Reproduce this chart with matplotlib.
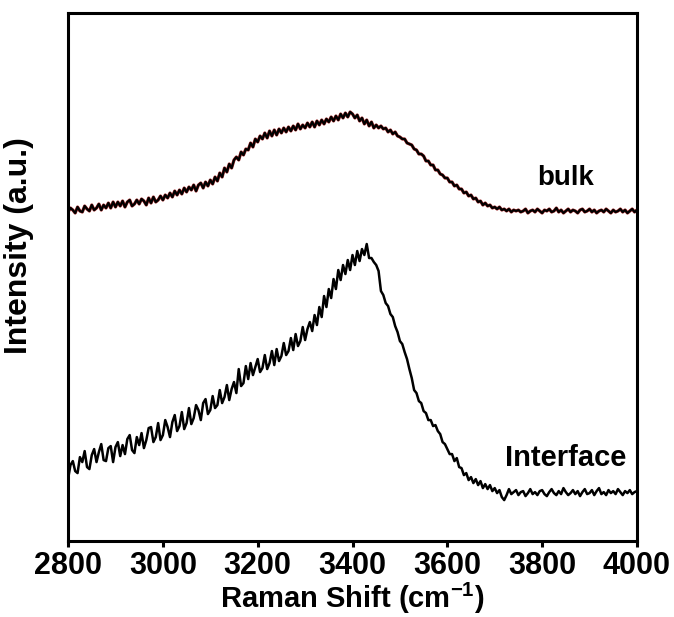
import numpy as np
import matplotlib.pyplot as plt

plt.rcParams["font.family"] = ["Liberation Sans", "DejaVu Sans"]
plt.rcParams["font.weight"] = "bold"
plt.rcParams["mathtext.fontset"] = "custom"
plt.rcParams["mathtext.rm"] = "Liberation Sans:bold"
plt.rcParams["mathtext.bf"] = "Liberation Sans:bold"

# Raman shift axis, cm^-1 (5 cm^-1 steps)
shift = np.arange(2800, 4001, 5)

# O-H stretching band, bulk water (offset trace)
bulk = [
    329, 333, 331, 328, 334, 330, 329, 335, 332, 330,
    336, 331, 333, 337, 331, 336, 333, 338, 333, 339,
    334, 339, 335, 340, 334, 339, 341, 335, 337, 341,
    337, 342, 340, 336, 343, 338, 344, 339, 341, 345,
    341, 346, 343, 348, 344, 350, 346, 351, 347, 353,
    349, 354, 351, 356, 350, 356, 358, 353, 359, 355,
    361, 357, 364, 360, 368, 364, 373, 369, 377, 373,
    381, 384, 381, 389, 386, 392, 391, 398, 394, 402,
    399, 405, 402, 408, 403, 410, 405, 411, 406, 412,
    408, 413, 409, 414, 410, 415, 411, 417, 412, 416,
    413, 418, 414, 419, 414, 420, 416, 421, 417, 422,
    419, 424, 420, 425, 421, 427, 423, 428, 424, 429,
    427, 423, 426, 420, 423, 417, 421, 415, 419, 413,
    416, 413, 415, 412, 413, 409, 411, 407, 409, 405,
    404, 402, 402, 398, 397, 396, 392, 391, 387, 387,
    385, 380, 380, 376, 376, 371, 371, 367, 366, 363,
    363, 359, 359, 355, 356, 352, 352, 348, 349, 345,
    346, 342, 343, 339, 340, 336, 338, 335, 336, 333,
    334, 332, 334, 331, 332, 330, 332, 329, 331, 330,
    331, 329, 330, 332, 328, 330, 331, 329, 332, 330,
    328, 331, 330, 332, 329, 330, 333, 329, 331, 328,
    330, 332, 329, 331, 330, 328, 331, 332, 329, 330,
    332, 329, 331, 328, 330, 331, 329, 332, 330, 328,
    331, 329, 330, 332, 329, 331, 328, 330, 332, 329,
    331,
]

# O-H stretching band at the interface
interface = [
    62, 76, 80, 70, 68, 84, 79, 90, 74, 72,
    86, 92, 79, 89, 97, 81, 80, 93, 95, 79,
    94, 99, 85, 96, 87, 102, 106, 91, 88, 104,
    96, 108, 93, 101, 113, 114, 99, 104, 118, 101,
    106, 121, 114, 104, 119, 126, 110, 115, 129, 112,
    118, 133, 117, 123, 136, 131, 121, 138, 142, 127,
    131, 145, 133, 136, 151, 138, 144, 156, 141, 152,
    159, 148, 172, 155, 158, 175, 162, 178, 166, 174,
    182, 169, 173, 186, 172, 178, 190, 176, 192, 180,
    185, 198, 186, 190, 203, 191, 207, 195, 200, 214,
    201, 212, 219, 210, 226, 216, 234, 224, 245, 234,
    252, 243, 262, 252, 271, 261, 276, 267, 281, 271,
    286, 276, 290, 280, 292, 286, 297, 283, 283, 279,
    276, 270, 250, 246, 238, 235, 227, 224, 215, 209,
    200, 197, 189, 182, 172, 163, 151, 148, 140, 138,
    130, 128, 121, 121, 115, 116, 110, 107, 99, 97,
    92, 87, 87, 80, 83, 74, 73, 66, 68, 61,
    64, 58, 62, 56, 60, 53, 57, 52, 56, 50,
    53, 48, 51, 44, 41, 46, 52, 47, 49, 51,
    46, 49, 50, 45, 48, 52, 47, 49, 46, 50,
    51, 47, 45, 49, 52, 48, 46, 50, 47, 53,
    49, 46, 48, 51, 47, 50, 45, 49, 52, 47,
    48, 51, 46, 50, 53, 47, 49, 46, 51, 48,
    50, 47, 52, 49, 46, 50, 48, 51, 47, 49,
    50,
]

fig = plt.figure(figsize=(6.74, 6.17), dpi=100)
ax = fig.add_axes([0.101, 0.123, 0.844, 0.856])

ax.plot(shift, bulk, color="#a02828", linewidth=2.3)
ax.plot(shift, bulk, color="black", linewidth=1.6)
ax.plot(shift, interface, color="black", linewidth=1.8)

ax.text(3850, 356, "bulk", fontsize=20, fontweight="bold", ha="center", va="baseline")
ax.text(3850, 75, "Interface", fontsize=21, fontweight="bold", ha="center", va="baseline")

ax.set_xlim(2800, 4000)
ax.set_ylim(0, 528)
ax.set_xticks(np.arange(2800, 4001, 200))
ax.set_yticks([])
ax.tick_params(axis="x", direction="out", length=4, width=2.2, labelsize=22, pad=3)
for label in ax.get_xticklabels():
    label.set_fontweight("bold")
for spine in ax.spines.values():
    spine.set_linewidth(2.2)

ax.set_xlabel("Raman Shift (cm$^{-1}$)", fontsize=21, fontweight="bold", labelpad=0)
ax.set_ylabel("Intensity (a.u.)", fontsize=23, fontweight="bold")
ax.yaxis.set_label_coords(-0.060, 0.56)

fig.savefig("out.png", dpi=100)
